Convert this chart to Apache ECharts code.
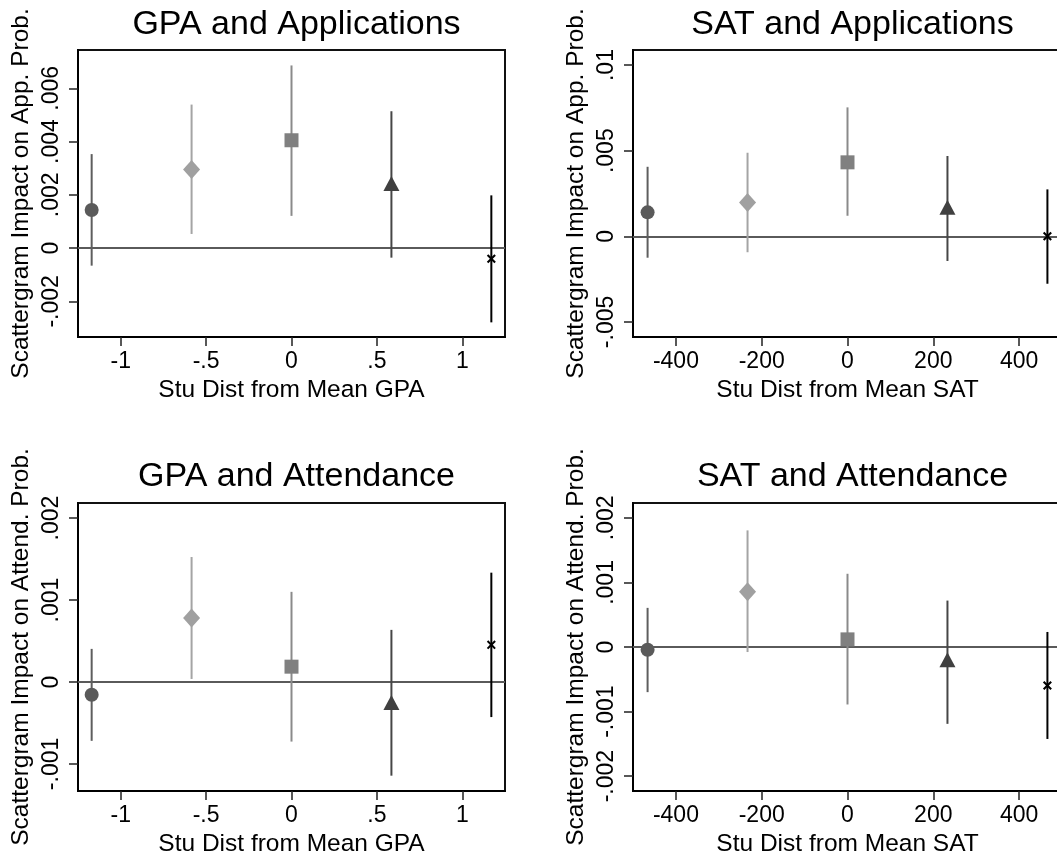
<!DOCTYPE html>
<html>
<head>
<meta charset="utf-8">
<script src="https://cdn.jsdelivr.net/npm/echarts@6/dist/echarts.min.js"></script>
<style>
html,body{margin:0;padding:0;background:#fff;}
#chart{width:1057px;height:857px;}
</style>
</head>
<body>
<div id="chart"></div>
<script>
// ---- Data ----
const panelTitles = ['GPA and Applications', 'SAT and Applications', 'GPA and Attendance', 'SAT and Attendance'];
const xNames = ['Stu Dist from Mean GPA', 'Stu Dist from Mean SAT', 'Stu Dist from Mean GPA', 'Stu Dist from Mean SAT'];
const yNames = ['Scattergram Impact on App. Prob.', 'Scattergram Impact on App. Prob.', 'Scattergram Impact on Attend. Prob.', 'Scattergram Impact on Attend. Prob.'];

const xGPA = [-1.17, -0.585, 0, 0.585, 1.17];
const xSAT = [-466, -233, 0, 233, 466];

const gpaAppEst = [0.00143, 0.00295, 0.00405, 0.00243, -0.0004];
const gpaAppLo  = [-0.00066, 0.00053, 0.00121, -0.00036, -0.00279];
const gpaAppHi  = [0.00353, 0.00539, 0.00686, 0.00514, 0.00198];

const satAppEst = [0.0014, 0.00198, 0.00432, 0.00169, 0.0];
const satAppLo  = [-0.00125, -0.00093, 0.0012, -0.00144, -0.00277];
const satAppHi  = [0.00406, 0.00488, 0.00753, 0.00469, 0.00274];

const gpaAttEst = [-0.000155, 0.00078, 0.000187, -0.00025, 0.000453];
const gpaAttLo  = [-0.000718, 0.000037, -0.000727, -0.001143, -0.000428];
const gpaAttHi  = [0.000404, 0.001525, 0.0011, 0.000636, 0.001334];

const satAttEst = [-0.000042, 0.000854, 0.000118, -0.000197, -0.000596];
const satAttLo  = [-0.000699, -0.000078, -0.00089, -0.00119, -0.001424];
const satAttHi  = [0.000606, 0.001806, 0.001134, 0.000719, 0.000233];

const xTicksGPA = [-1, -0.5, 0, 0.5, 1];
const xTicksSAT = [-400, -200, 0, 200, 400];
const yTicksGpaApp = [-0.002, 0, 0.002, 0.004, 0.006];
const yTicksSatApp = [-0.005, 0, 0.005, 0.01];
const yTicksGpaAtt = [-0.001, 0, 0.001, 0.002];
const yTicksSatAtt = [-0.002, -0.001, 0, 0.001, 0.002];

// ---- Layout / style ----
const FONT = "'Liberation Sans', Arial, Helvetica, sans-serif";
const grids = [
  {left: 78, top: 50, width: 427, height: 287},
  {left: 633, top: 50, width: 429, height: 287},
  {left: 78, top: 503, width: 427, height: 288},
  {left: 633, top: 503, width: 429, height: 288}
];
const xRanges = [[-1.25, 1.25], [-500, 500], [-1.25, 1.25], [-500, 500]];
const yRanges = [[-0.00334, 0.00744], [-0.00588, 0.01088], [-0.00133, 0.002184], [-0.00223, 0.00223]];
const panels = [
  {x: xGPA, est: gpaAppEst, lo: gpaAppLo, hi: gpaAppHi, xt: xTicksGPA, yt: yTicksGpaApp},
  {x: xSAT, est: satAppEst, lo: satAppLo, hi: satAppHi, xt: xTicksSAT, yt: yTicksSatApp},
  {x: xGPA, est: gpaAttEst, lo: gpaAttLo, hi: gpaAttHi, xt: xTicksGPA, yt: yTicksGpaAtt},
  {x: xSAT, est: satAttEst, lo: satAttLo, hi: satAttHi, xt: xTicksSAT, yt: yTicksSatAtt}
];
const crossPath = 'path://M0,1.6 L1.6,0 L5,3.4 L8.4,0 L10,1.6 L6.6,5 L10,8.4 L8.4,10 L5,6.6 L1.6,10 L0,8.4 L3.4,5 Z';
const markerStyles = [
  {symbol: 'circle', size: 14, color: '#5a5a5a', line: '#5e5e5e'},
  {symbol: 'diamond', size: [17, 19], color: '#a0a0a0', line: '#a4a4a4'},
  {symbol: 'rect', size: 14, color: '#808080', line: '#8a8a8a'},
  {symbol: 'triangle', size: [16, 15], color: '#404040', line: '#464646'},
  {symbol: crossPath, size: 9, color: '#000000', line: '#000000'}
];

function fmt(v) {
  if (Math.abs(v) < 1e-12) return '0';
  const s = String(parseFloat(Number(v).toPrecision(6)));
  return s.replace(/^(-?)0\./, '$1.');
}

const option = {
  backgroundColor: '#ffffff',
  animation: false,
  title: panelTitles.map((t, i) => ({
    text: t,
    left: grids[i].left + grids[i].width / 2,
    top: i < 2 ? 3 : 455,
    textAlign: 'center',
    textStyle: {fontSize: 34, fontWeight: 'normal', color: '#000', fontFamily: FONT}
  })),
  grid: grids.map(g => Object.assign({show: true, borderColor: '#111', borderWidth: 2, backgroundColor: '#fff', outerBoundsMode: 'none', containLabel: false}, g)),
  xAxis: panels.map((p, i) => ({
    type: 'value', gridIndex: i,
    min: xRanges[i][0], max: xRanges[i][1],
    name: xNames[i], nameLocation: 'middle', nameGap: 41,
    nameTextStyle: {fontSize: 24.5, color: '#000', fontFamily: FONT},
    axisLine: {show: true, onZero: false, lineStyle: {color: '#000', width: 2}},
    axisTick: {show: true, inside: false, length: 9, customValues: p.xt, lineStyle: {color: '#222', width: 1.5}},
    axisLabel: {show: true, margin: 13, customValues: p.xt, formatter: fmt, fontSize: 23, color: '#000', fontFamily: FONT},
    splitLine: {show: false}
  })),
  yAxis: panels.map((p, i) => ({
    type: 'value', gridIndex: i,
    min: yRanges[i][0], max: yRanges[i][1],
    name: yNames[i], nameLocation: 'middle', nameGap: 44,
    nameTextStyle: {fontSize: 24.5, color: '#000', fontFamily: FONT},
    axisLine: {show: true, onZero: false, lineStyle: {color: '#000', width: 2}},
    axisTick: {show: true, inside: false, length: 9, customValues: p.yt, lineStyle: {color: '#222', width: 1.5}},
    axisLabel: {show: true, rotate: 90, margin: 15, customValues: p.yt, formatter: fmt, fontSize: 23, color: '#000', fontFamily: FONT},
    splitLine: {show: false}
  })),
  series: []
};

panels.forEach((p, i) => {
  // error bars
  option.series.push({
    type: 'custom', xAxisIndex: i, yAxisIndex: i, z: 3,
    data: p.x.map((x, k) => [x, p.lo[k], p.hi[k]]),
    encode: {x: 0, y: [1, 2]},
    renderItem: function (params, api) {
      const a = api.coord([api.value(0), api.value(1)]);
      const b = api.coord([api.value(0), api.value(2)]);
      return {type: 'line', shape: {x1: a[0], y1: a[1], x2: b[0], y2: b[1]},
        style: {stroke: markerStyles[params.dataIndex].line, lineWidth: 2}};
    },
    markLine: {
      silent: true, symbol: ['none', 'none'], z: 2,
      label: {show: false},
      lineStyle: {color: '#5a5a5a', width: 2, type: 'solid'},
      data: [{yAxis: 0}]
    }
  });
  // point estimates
  option.series.push({
    type: 'scatter', xAxisIndex: i, yAxisIndex: i, z: 5,
    data: p.x.map((x, k) => ({
      value: [x, p.est[k]],
      symbol: markerStyles[k].symbol,
      symbolSize: markerStyles[k].size,
      itemStyle: {color: markerStyles[k].color, opacity: 1}
    }))
  });
});

const chart = echarts.init(document.getElementById('chart'), null, {renderer: 'canvas'});
chart.setOption(option);
</script>
</body>
</html>
